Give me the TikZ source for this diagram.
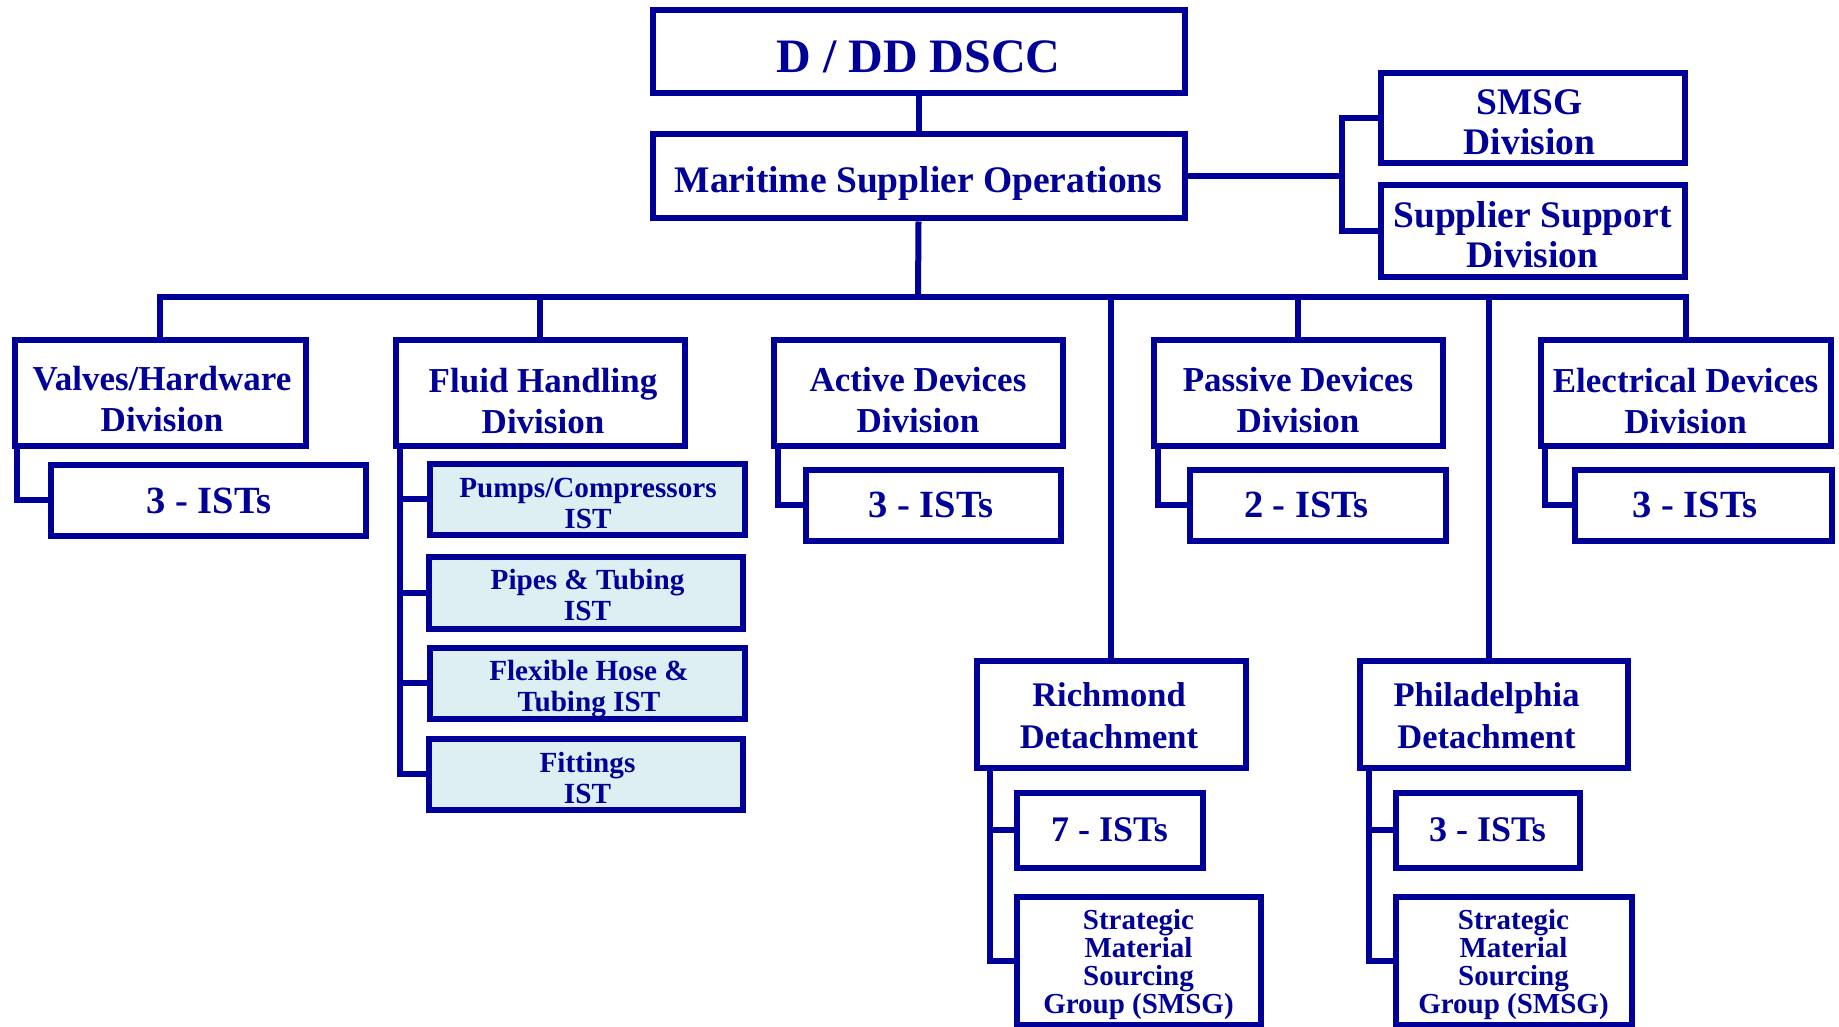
\documentclass[tikz,border=0pt]{standalone}
\usepackage{fontspec}
\setmainfont{Liberation Serif}
\definecolor{navy}{RGB}{0,0,153}
\definecolor{ltcyan}{RGB}{221,239,242}
\begin{document}
\begin{tikzpicture}[x=1pt,y=-1pt,
  box/.style={draw=navy, line width=6pt, rectangle, inner sep=0pt, fill=white},
  subbox/.style={box, fill=ltcyan},
  txt/.style={inner sep=0pt, align=center, text=navy},
  conn/.style={draw=navy, line width=6pt, line join=miter},
  fbig/.style={txt, font={\bfseries\fontsize{48}{52}\selectfont}},
  fmso/.style={txt, font={\bfseries\fontsize{37.5}{40}\selectfont}},
  fdiv/.style={txt, font={\bfseries\fontsize{35}{41}\selectfont}},
  fdet/.style={txt, font={\bfseries\fontsize{34.5}{42}\selectfont}},
  fist/.style={txt, font={\bfseries\fontsize{38.5}{40}\selectfont}},
  fistb/.style={txt, font={\bfseries\fontsize{36}{40}\selectfont}},
  fsub/.style={txt, font={\bfseries\fontsize{29.2}{31}\selectfont}},
  fstr/.style={txt, font={\bfseries\fontsize{29}{28}\selectfont}},
]
\useasboundingbox (0,0) rectangle (1839,1027);

% top levels
\node[box,minimum width=532pt,minimum height=83pt,label={[fbig,yshift=-5pt]center:D / DD DSCC}] (top) at (918.5,52) {};
\node[box,minimum width=532pt,minimum height=84pt,label={[fmso,yshift=-7pt]center:Maritime Supplier Operations}] (mso) at (918.5,176.5) {};
\node[box,minimum width=304pt,minimum height=90pt,label={[fmso,yshift=-4pt,xshift=-3pt]center:SMSG\\Division}] (smsg) at (1532.5,118.5) {};
\node[box,minimum width=304pt,minimum height=91pt,label={[fmso,yshift=-4pt]center:Supplier Support\\Division}] (ssd) at (1532.5,231) {};

% divisions
\node[box,minimum width=291pt,minimum height=106pt,label={[fdiv,yshift=-7pt,xshift=2pt]center:Valves/Hardware\\Division}] (valves) at (160,392.5) {};
\node[box,minimum width=289pt,minimum height=106pt,label={[fdiv,yshift=-9pt,xshift=3pt]center:Fluid Handling\\Division}] (fluid) at (540,392.5) {};
\node[box,minimum width=289pt,minimum height=106pt,label={[fdiv,yshift=-8pt]center:Active Devices\\Division}] (active) at (918,392.5) {};
\node[box,minimum width=289pt,minimum height=106pt,label={[fdiv,yshift=-8pt]center:Passive Devices\\Division}] (passive) at (1298,392.5) {};
\node[box,minimum width=290pt,minimum height=106pt,label={[fdiv,yshift=-9pt]center:Electrical Devices\\Division}] (elec) at (1685.5,392.5) {};

% IST boxes
\node[box,minimum width=315pt,minimum height=71pt,label={[fist,yshift=-1pt,xshift=1pt]center:3 - ISTs}] (vist) at (208,500) {};
\node[subbox,minimum width=315pt,minimum height=71pt,label={[fsub,yshift=-4pt,xshift=1pt]center:Pumps/Compressors\\IST}] (pumps) at (587,499) {};
\node[subbox,minimum width=314pt,minimum height=72pt,label={[fsub,yshift=-3pt,xshift=2pt]center:Pipes \& Tubing\\IST}] (pipes) at (585.5,592.5) {};
\node[subbox,minimum width=315pt,minimum height=71pt,label={[fsub,yshift=-6pt,xshift=2pt]center:Flexible Hose \&\\Tubing IST}] (flex) at (587,683) {};
\node[subbox,minimum width=314pt,minimum height=71pt,label={[fsub,yshift=-4pt,xshift=2pt]center:Fittings\\IST}] (fit) at (585.5,774) {};
\node[box,minimum width=255pt,minimum height=71pt,label={[fist,xshift=-2pt]center:3 - ISTs}] (aist) at (933,505) {};
\node[box,minimum width=256pt,minimum height=71pt,label={[fist,xshift=-11pt]center:2 - ISTs}] (pist) at (1317.5,505) {};
\node[box,minimum width=257pt,minimum height=71pt,label={[fist,xshift=-8pt]center:3 - ISTs}] (eist) at (1703,505) {};

% detachments
\node[box,minimum width=269pt,minimum height=107pt,label={[fdet,yshift=-2pt,xshift=-2pt]center:Richmond\\Detachment}] (rich) at (1111,714) {};
\node[box,minimum width=268pt,minimum height=107pt,label={[fdet,yshift=-2pt,xshift=-7pt]center:Philadelphia\\Detachment}] (phil) at (1493.5,714) {};
\node[box,minimum width=186pt,minimum height=75pt,label={[fistb]center:7 - ISTs}] (rist) at (1109.5,830) {};
\node[box,minimum width=184pt,minimum height=75pt,label={[fistb]center:3 - ISTs}] (phist) at (1487.5,830) {};
\node[box,minimum width=244pt,minimum height=128pt,label={[fstr,yshift=-4pt]center:Strategic\\Material\\Sourcing\\Group (SMSG)}] (rsmsg) at (1138.5,960.5) {};
\node[box,minimum width=236pt,minimum height=128pt,label={[fstr,yshift=-4pt]center:Strategic\\Material\\Sourcing\\Group (SMSG)}] (psmsg) at (1513.5,960.5) {};

% connectors
\coordinate (bus) at (918,297);
\coordinate (br) at (1342,176.5);
\draw[conn] (top.south) -- (mso.north);
\draw[conn] (mso.south) -- (bus);
\draw[conn] (valves.north) -- (valves.north |- bus) -- (elec.north |- bus) -- (elec.north);
\draw[conn] (fluid.north) -- (fluid.north |- bus);
\draw[conn] (passive.north) -- (passive.north |- bus);
\draw[conn] (rich.north) -- (rich.north |- bus);
\draw[conn] ([xshift=-5pt]phil.north) -- ([xshift=-5pt]phil.north |- bus);
\draw[conn] (mso.east) -- (br);
\draw[conn] (smsg.west) -| (br) |- (ssd.west);

\draw[conn] ([xshift=5pt]valves.south west) |- (vist.west);
\draw[conn] ([xshift=7pt]fluid.south west) coordinate (fb) |- (fit.west);
\draw[conn] (pumps.west) -- (pumps.west -| fb);
\draw[conn] (pipes.west) -- (pipes.west -| fb);
\draw[conn] (flex.west) -- (flex.west -| fb);
\draw[conn] ([xshift=7pt]active.south west) |- (aist.west);
\draw[conn] ([xshift=7pt]passive.south west) |- (pist.west);
\draw[conn] ([xshift=7pt]elec.south west) |- (eist.west);
\draw[conn] ([xshift=16pt]rich.south west) coordinate (rb) |- (rsmsg.west);
\draw[conn] (rist.west) -- (rist.west -| rb);
\draw[conn] ([xshift=12pt]phil.south west) coordinate (pb) |- (psmsg.west);
\draw[conn] (phist.west) -- (phist.west -| pb);
\end{tikzpicture}
\end{document}
